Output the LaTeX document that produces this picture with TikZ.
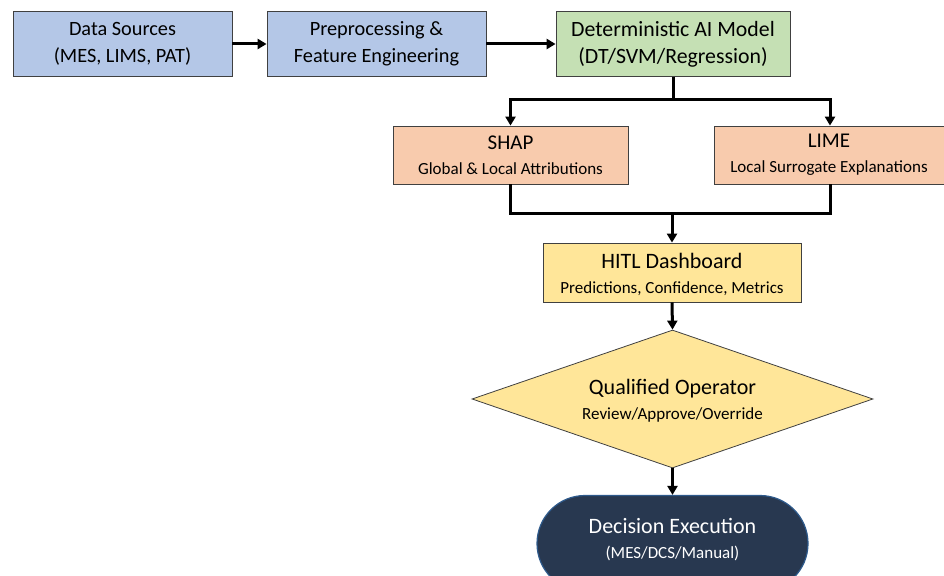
\documentclass[tikz,border=0pt]{standalone}
\usepackage{fontspec}
\setmainfont{Carlito}
\usetikzlibrary{shapes.geometric,arrows.meta}
\definecolor{cblue}{HTML}{B4C7E7}
\definecolor{cgreen}{HTML}{C5E0B4}
\definecolor{corange}{HTML}{F8CBAD}
\definecolor{cyellow}{HTML}{FFE699}
\definecolor{cnavy}{HTML}{283850}
\definecolor{cnavyedge}{HTML}{2E5A8C}
\definecolor{cedge}{HTML}{404040}
\tikzset{
  box/.style={draw=cedge, line width=0.8pt, rectangle, align=center, inner sep=0pt},
  ttl/.style={font=\fontsize{20.3}{27}\selectfont},
  two/.style={font=\fontsize{17}{25}\selectfont},
  conn/.style={line width=3pt, draw=black},
  arr/.style={conn, -{Triangle[length=9pt,width=10pt]}},
}
\newcommand{\bigt}[2]{{\fontsize{#1}{25}\selectfont #2}}
\begin{document}
\begin{tikzpicture}[x=1pt,y=-1pt]
\clip (0,0) rectangle (944,575);
\useasboundingbox (0,0) rectangle (944,575);
\node[box, ttl, fill=cblue, minimum width=219, minimum height=65] (src) at (122.5,44) {Data Sources\\(MES, LIMS, PAT)};
\node[box, ttl, fill=cblue, minimum width=219, minimum height=65] (pre) at (376.5,44) {Preprocessing \&\\Feature Engineering};
\node[box, font=\fontsize{21.8}{27}\selectfont, fill=cgreen, minimum width=234, minimum height=65] (ai) at (673,44) {Deterministic AI Model\\(DT/SVM/Regression)};
\node[box, two, fill=corange, minimum width=235, minimum height=58] (shap) at (510.5,155) {\bigt{21}{SHAP}\\Global \& Local Attributions};
\node[box, two, fill=corange, minimum width=230, minimum height=58] (lime) at (829,155) {\bigt{21}{LIME}\\Local Surrogate Explanations};
\node[box, fill=cyellow, minimum width=258, minimum height=59] (hitl) at (672,272.5) {};
\node[two, align=center, inner sep=0pt] (hitlt) at (672,274.5) {\bigt{22}{HITL Dashboard}\\Predictions, Confidence, Metrics};
\node[draw=cedge, line width=0.8pt, fill=cyellow, diamond, shape aspect=2.9, inner sep=0pt, minimum width=401, minimum height=138] (op) at (672.5,399) {};
\node[two, align=center, inner sep=0pt] (opt) at (672.5,401) {\bigt{22}{Qualified Operator}\\Review/Approve/Override};
\node[draw=cnavyedge, line width=1.2pt, fill=cnavy, rectangle, rounded corners=48pt, minimum width=271, minimum height=96, inner sep=0pt] (exec) at (672.5,543.5) {};
\node[two, text=white, align=center, inner sep=0pt] (exect) at (672.5,540) {\bigt{22}{Decision Execution}\\(MES/DCS/Manual)};
\coordinate (split) at (673,100);
\coordinate (join) at (672,213);
\draw[arr] (src) -- (pre);
\draw[arr] (pre) -- (ai);
\draw[conn] (ai.south) -- (split);
\draw[arr] (split) -| (shap.north);
\draw[arr] (split) -| ([xshift=1pt]lime.north);
\draw[conn] (shap.south) |- (join);
\draw[conn] ([xshift=1pt]lime.south) |- (join);
\draw[arr] (join) -- (hitl.north);
\draw[arr] (hitl.south) -- (op.north);
\draw[arr] (op.south) -- (exec.north);
\end{tikzpicture}
\end{document}
